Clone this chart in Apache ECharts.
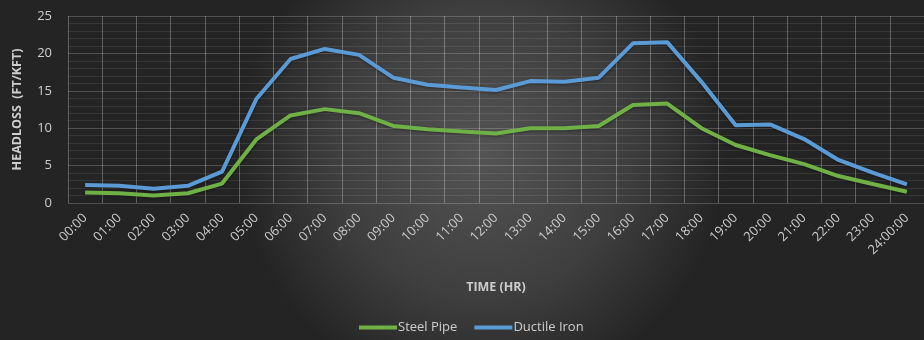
<!DOCTYPE html>
<html>
<head>
<meta charset="utf-8">
<script src="https://cdn.jsdelivr.net/npm/echarts@6/dist/echarts.min.js"></script>
<style>
  html, body { margin: 0; padding: 0; background: #2a2a2a; }
  #chart { width: 924px; height: 340px; }
</style>
</head>
<body>
<div id="chart"></div>
<script>
// Hourly headloss per thousand feet of pipe
const hours = ['00:00','01:00','02:00','03:00','04:00','05:00','06:00','07:00','08:00','09:00',
  '10:00','11:00','12:00','13:00','14:00','15:00','16:00','17:00','18:00','19:00',
  '20:00','21:00','22:00','23:00','24:00:00'];
const steelPipe = [1.4, 1.3, 1.0, 1.3, 2.6, 8.5, 11.7, 12.55, 12.0, 10.3,
  9.85, 9.55, 9.3, 10.0, 10.0, 10.3, 13.1, 13.3, 10.0, 7.75,
  6.4, 5.2, 3.6, 2.55, 1.5];
const ductileIron = [2.4, 2.3, 1.9, 2.3, 4.2, 13.9, 19.25, 20.6, 19.8, 16.75,
  15.8, 15.45, 15.1, 16.3, 16.2, 16.75, 21.35, 21.5, 16.2, 10.4,
  10.5, 8.55, 5.75, 4.05, 2.5];
const yTicks = { min: 0, max: 25, step: 5 };

const textColor = '#cdcdcd';
const font = '"Open Sans", "Liberation Sans", sans-serif';

const chart = echarts.init(document.getElementById('chart'), null, { renderer: 'canvas' });
chart.setOption({
  backgroundColor: {
    type: 'radial', x: 0.52, y: 0.45, r: 0.72,
    colorStops: [
      { offset: 0, color: '#545454' },
      { offset: 0.6, color: '#3e3e3e' },
      { offset: 1, color: '#242424' }
    ]
  },
  animation: false,
  textStyle: { fontFamily: font },
  grid: { left: 68, top: 16, height: 187, width: 867 },
  legend: {
    left: 354, top: 316,
    icon: 'rect', itemWidth: 38, itemHeight: 4, itemGap: 17,
    textStyle: { color: textColor, fontSize: 13, fontFamily: font, padding: [0, 0, 0, -4] },
    data: ['Steel Pipe', 'Ductile Iron']
  },
  xAxis: [
    {
      type: 'category',
      data: hours,
      boundaryGap: true,
      name: 'TIME (HR)',
      nameLocation: 'middle',
      nameGap: 78,
      nameTextStyle: { color: textColor, fontWeight: 'bold', fontSize: 12.5, fontFamily: font },
      axisLine: { show: false },
      axisTick: { show: false },
      axisLabel: { color: textColor, fontSize: 13, rotate: 45, margin: 13, interval: 0 },
      splitLine: { show: true, lineStyle: { color: 'rgba(255,255,255,0.2)', width: 1 } }
    },
    {
      // half-step gridlines through each hour
      type: 'value',
      min: -0.5, max: 24.5, interval: 1,
      show: true,
      axisLine: { show: false },
      axisTick: { show: false },
      axisLabel: { show: false },
      splitLine: { show: true, lineStyle: { color: 'rgba(255,255,255,0.1)', width: 1 } }
    }
  ],
  yAxis: {
    type: 'value',
    min: yTicks.min, max: yTicks.max, interval: yTicks.step,
    name: 'HEADLOSS  (FT/KFT)',
    nameLocation: 'middle',
    nameGap: 44,
    nameTextStyle: { color: textColor, fontWeight: 'bold', fontSize: 12.5, fontFamily: font },
    axisLine: { show: false },
    axisTick: { show: false },
    axisLabel: { color: textColor, fontSize: 13, margin: 16 },
    splitLine: { show: true, lineStyle: { color: 'rgba(255,255,255,0.2)', width: 1 } },
    minorTick: { show: false, splitNumber: 5 },
    minorSplitLine: { show: true, lineStyle: { color: 'rgba(255,255,255,0.09)', width: 1 } }
  },
  series: [
    {
      name: 'Steel Pipe', type: 'line', xAxisIndex: 0,
      data: steelPipe, symbol: 'none', smooth: false,
      lineStyle: { color: '#6fb146', width: 4, shadowColor: 'rgba(0,0,0,0.4)', shadowBlur: 3, shadowOffsetY: 1 },
      itemStyle: { color: '#6fb146' }
    },
    {
      name: 'Ductile Iron', type: 'line', xAxisIndex: 0,
      data: ductileIron, symbol: 'none', smooth: false,
      lineStyle: { color: '#5b9bd5', width: 4, shadowColor: 'rgba(0,0,0,0.4)', shadowBlur: 3, shadowOffsetY: 1 },
      itemStyle: { color: '#5b9bd5' }
    }
  ]
});
</script>
</body>
</html>
